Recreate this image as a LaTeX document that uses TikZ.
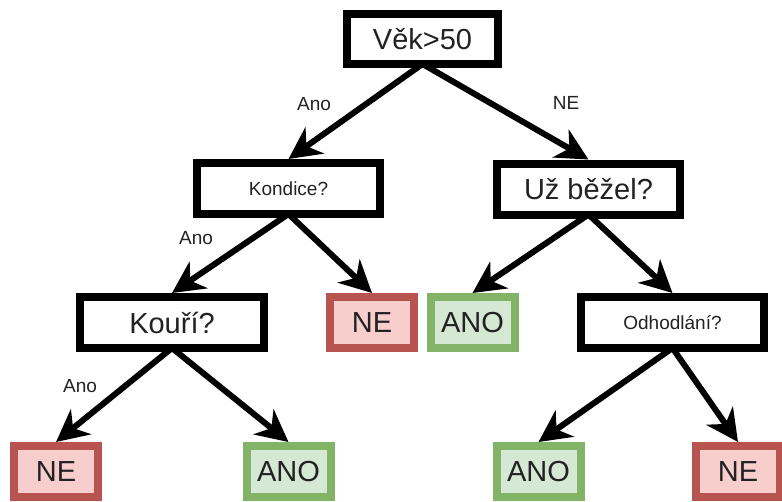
\documentclass[tikz,border=0pt]{standalone}
\usepackage{fontspec}
\setmainfont{Liberation Sans}
\usetikzlibrary{arrows.meta,backgrounds}
\definecolor{redline}{HTML}{B85450}
\definecolor{redfill}{HTML}{F8CECC}
\definecolor{greenline}{HTML}{82B366}
\definecolor{greenfill}{HTML}{D5E8D4}
\definecolor{ink}{HTML}{222222}
\begin{document}
\begin{tikzpicture}[x=1pt,y=-1pt,
  big/.style={font=\fontsize{29}{29}\selectfont},
  small/.style={font=\fontsize{19}{19}\selectfont},
  box/.style={draw=black,line width=8pt,fill=white,inner sep=0pt,text=ink},
  question/.style={box,minimum width=183pt,minimum height=51pt},
  yesleaf/.style={box,draw=greenline,fill=greenfill,minimum width=84pt,minimum height=51pt,big},
  noleaf/.style={box,draw=redline,fill=redfill,minimum width=84pt,minimum height=51pt,big},
  link/.style={line width=6pt,-{Stealth[length=32pt,width=32pt,inset=10pt]}},
  tag/.style={small,text=ink,inner sep=0pt}]
\useasboundingbox (0,0) rectangle (782,501);
\clip (0,0) rectangle (782,501);

% decision nodes
\node[box,big,minimum width=151pt,minimum height=50pt] (root) at (422.5,39) {Věk>50};
\node[question,small] (kondice) at (288.5,188.5) {Kondice?};
\node[question,big] (bezel) at (588.5,189) {Už běžel?};
\node[question,big,minimum width=184pt] (kouri) at (172,322.5) {Kouří?};
\node[question,small] (odhodlani) at (672.5,322.5) {Odhodlání?};

% leaves
\node[noleaf] (ne1) at (372,322.5) {NE};
\node[yesleaf] (ano1) at (472.5,322.5) {ANO};
\node[noleaf] (ne2) at (56,471.5) {NE};
\node[yesleaf] (ano2) at (288.5,471.5) {ANO};
\node[yesleaf] (ano3) at (538.5,471.5) {ANO};
\node[noleaf] (ne3) at (738,471.5) {NE};

% connectors
\begin{scope}[on background layer]
\draw[link] ([yshift=4pt]root.south) -- (kondice.north);
\draw[link] ([yshift=4pt]root.south) -- (bezel.north);
\draw[link] ([yshift=4pt]kondice.south) -- (kouri.north);
\draw[link] ([yshift=4pt]kondice.south) -- (ne1.north);
\draw[link] ([yshift=4pt]bezel.south) -- (ano1.north);
\draw[link] ([yshift=4pt]bezel.south) -- (odhodlani.north);
\draw[link] ([yshift=4pt]kouri.south) -- (ne2.north);
\draw[link] ([yshift=4pt]kouri.south) -- (ano2.north);
\draw[link] ([yshift=4pt]odhodlani.south) -- (ano3.north);
\draw[link] ([yshift=4pt]odhodlani.south) -- (ne3.north);
\end{scope}

% edge labels
\node[tag] (t1) at (314,104) {Ano};
\node[tag] (t2) at (566,103) {NE};
\node[tag] (t3) at (196,238) {Ano};
\node[tag] (t4) at (80,386) {Ano};
\end{tikzpicture}
\end{document}
